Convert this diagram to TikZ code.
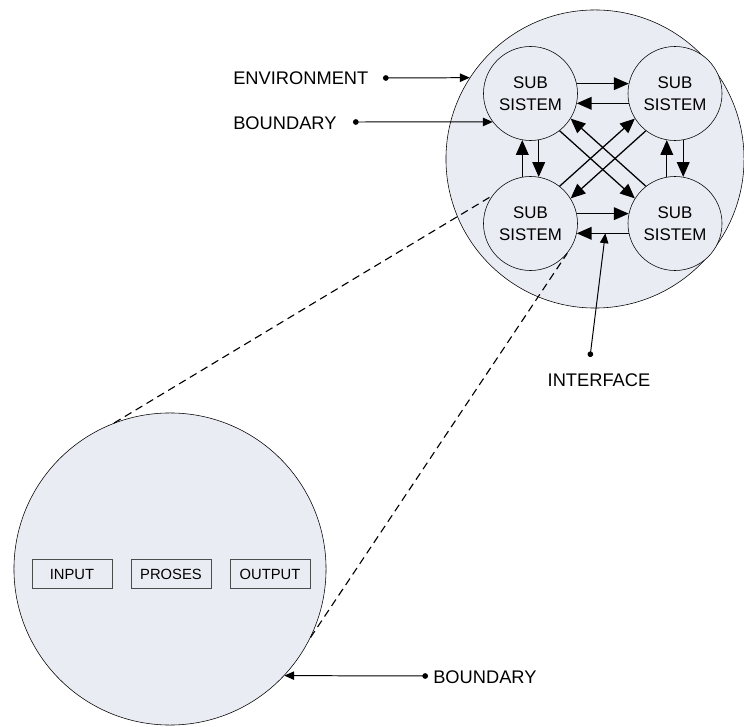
\documentclass[tikz,border=0pt]{standalone}
\usepackage{fontspec}
\setmainfont{Liberation Sans}
\usetikzlibrary{arrows.meta}
\definecolor{sysfill}{RGB}{234,236,243}

\begin{document}
\begin{tikzpicture}[x=0.025cm,y=-0.025cm,
    sub/.style={circle,draw,fill=sysfill,minimum size=2.35cm,inner sep=0pt,
        align=center,font=\fontsize{12}{15.5}\selectfont},
    flow/.style={-{Triangle[length=10.5pt,width=9pt]},line width=0.9pt},
    lbl/.style={font=\fontsize{13}{15}\selectfont,inner sep=0pt},
    pin/.style={{Circle[length=4pt]}-{Triangle[length=7pt,width=6pt]},line width=0.7pt},
    part/.style={draw=black!70,minimum width=2cm,minimum height=0.72cm,
        font=\fontsize{10.5}{12}\selectfont},
    zoomline/.style={dash pattern=on 5.5pt off 3.5pt,line width=0.8pt}]

    \useasboundingbox (0,0) rectangle (744,727);

    % the system and its sub systems
    \node[circle,draw,fill=sysfill,minimum size=7.45cm] (sys) at (595,159) {};
    \node[sub] (tl) at (530.5,93.5) {SUB\\SISTEM};
    \node[sub] (tr) at (675,93.5) {SUB\\SISTEM};
    \node[sub] (bl) at (530.5,223.5) {SUB\\SISTEM};
    \node[sub] (br) at (675,223.5) {SUB\\SISTEM};

    \draw[flow] (tl.12) -- (tr.168);
    \draw[flow] (tr.-168) -- (tl.-12);
    \draw[flow] (bl.12) -- (br.168);
    \draw[flow] (br.-168) -- coordinate[pos=.45] (iface) (bl.-12);
    \draw[flow] (bl.100) -- (tl.260);
    \draw[flow] (tl.280) -- (bl.80);
    \draw[flow] (br.100) -- (tr.260);
    \draw[flow] (tr.280) -- (br.80);
    \draw[flow] (tl.-52) -- (br.148);
    \draw[flow] (br.128) -- (tl.-32);
    \draw[flow] (bl.52) -- (tr.212);
    \draw[flow] (tr.232) -- (bl.32);

    % one sub system opened up
    \node[circle,draw,fill=sysfill,minimum size=7.8cm] (unit) at (170,569) {};
    \node[part] (input) at (72,574) {INPUT};
    \node[part] (proses) at (171,574) {PROSES};
    \node[part] (output) at (270,574) {OUTPUT};

    \draw[zoomline] (unit.111) -- (bl.144);
    \draw[zoomline] (unit.-26) -- (bl.-39);

    % labels
    \node[lbl,anchor=west] (env) at (233,78) {ENVIRONMENT};
    \coordinate (envdot) at (383,78);
    \draw[pin] (envdot) -- (sys.147);

    \node[lbl,anchor=west] (bnd) at (233,123) {BOUNDARY};
    \coordinate (bnddot) at (353,122);
    \draw[pin] (bnddot) -- (tl.217);

    \node[lbl] (ifc) at (599,380) {INTERFACE};
    \coordinate (ifcdot) at (590,357);
    \draw[pin] (ifcdot) -- (iface);

    \node[lbl,anchor=west] (bnd2) at (433,677) {BOUNDARY};
    \coordinate (unitdot) at (428,676);
    \draw[pin] (unitdot) -- (unit.-43);

\end{tikzpicture}
\end{document}
